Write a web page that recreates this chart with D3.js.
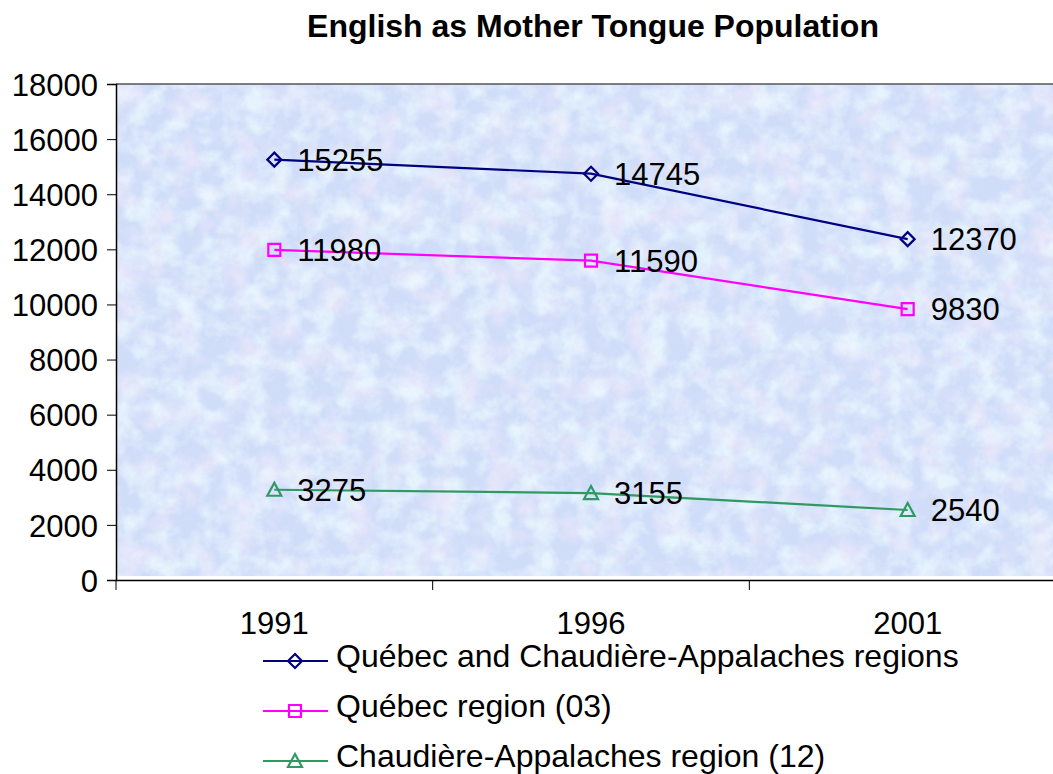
<!DOCTYPE html>
<html>
<head>
<meta charset="utf-8">
<script src="https://cdn.jsdelivr.net/npm/d3@7"></script>
<style>
body{margin:0;background:#fff}
text{font-family:Arial,"Liberation Sans",sans-serif}
</style>
</head>
<body>
<div id="canvas"></div>
<script>
"use strict"

let years=["1991","1996","2001"]
let seriesNames=["Québec and Chaudière-Appalaches regions","Québec region (03)","Chaudière-Appalaches region (12)"]
let both=[15255,14745,12370]
let quebec=[11980,11590,9830]
let chaudiere=[3275,3155,2540]
let yTicks=[0,2000,4000,6000,8000,10000,12000,14000,16000,18000]

let svgWidth=1053
let svgHeight=774
let plotLeft=116, plotRight=1066, plotTop=84, plotBottom=580

let drawing=d3.select("#canvas")
    .append("svg")
    .attr("width",svgWidth)
    .attr("height",svgHeight)

let x=d3.scaleBand().domain(years).range([plotLeft,plotRight])
let y=d3.scaleLinear().domain([0,18000]).range([plotBottom,plotTop])

// textured plot background
let defs=drawing.append("defs")
let f1=defs.append("filter").attr("id","pinkNoise").attr("x",0).attr("y",0).attr("width",1).attr("height",1)
f1.append("feTurbulence").attr("type","fractalNoise").attr("baseFrequency",0.035).attr("numOctaves",4).attr("seed",3)
f1.append("feColorMatrix").attr("type","matrix")
    .attr("values","0 0 0 0 0.96  0 0 0 0 0.85  0 0 0 0 0.97  2.4 0 0 0 -1.05")
let f2=defs.append("filter").attr("id","cyanNoise").attr("x",0).attr("y",0).attr("width",1).attr("height",1)
f2.append("feTurbulence").attr("type","fractalNoise").attr("baseFrequency",0.045).attr("numOctaves",4).attr("seed",11)
f2.append("feColorMatrix").attr("type","matrix")
    .attr("values","0 0 0 0 0.84  0 0 0 0 0.96  0 0 0 0 1  2.4 0 0 0 -0.95")
let f3=defs.append("filter").attr("id","grain").attr("x",0).attr("y",0).attr("width",1).attr("height",1)
f3.append("feTurbulence").attr("type","fractalNoise").attr("baseFrequency",0.18).attr("numOctaves",2).attr("seed",5)
f3.append("feColorMatrix").attr("type","matrix")
    .attr("values","0 0 0 0 0.7  0 0 0 0 0.76  0 0 0 0 0.93  0 0 0 -2 1.05")
defs.append("clipPath").attr("id","plotClip")
    .append("rect").attr("x",plotLeft).attr("y",plotTop).attr("width",svgWidth-plotLeft).attr("height",plotBottom-4-plotTop)

let bg=drawing.append("g").attr("clip-path","url(#plotClip)")
bg.append("rect").attr("x",plotLeft).attr("y",plotTop).attr("width",svgWidth-plotLeft).attr("height",plotBottom-plotTop).attr("fill","#d0ddf9")
bg.append("rect").attr("x",plotLeft).attr("y",plotTop).attr("width",svgWidth-plotLeft).attr("height",plotBottom-plotTop).attr("filter","url(#pinkNoise)").attr("opacity",0.6)
bg.append("rect").attr("x",plotLeft).attr("y",plotTop).attr("width",svgWidth-plotLeft).attr("height",plotBottom-plotTop).attr("filter","url(#cyanNoise)").attr("opacity",0.8)
bg.append("rect").attr("x",plotLeft).attr("y",plotTop).attr("width",svgWidth-plotLeft).attr("height",plotBottom-plotTop).attr("filter","url(#grain)").attr("opacity",0.2)

// top border
drawing.append("line")
    .attr("x1",plotLeft).attr("x2",svgWidth).attr("y1",plotTop).attr("y2",plotTop)
    .attr("stroke","#555").attr("stroke-width",1.5)

// title
drawing.append("text")
    .attr("x",593).attr("y",37)
    .attr("text-anchor","middle")
    .attr("font-size",32).attr("font-weight","bold")
    .text("English as Mother Tongue Population")

// axes
let yAxis=drawing.append("g")
    .attr("transform",`translate(${plotLeft},0)`)
    .call(d3.axisLeft(y).tickValues(yTicks).tickSize(9).tickPadding(9).tickFormat(d3.format("d")))
yAxis.select(".domain").attr("stroke","#000").attr("stroke-width",1.5)
yAxis.selectAll(".tick line").attr("stroke","#000")
yAxis.selectAll("text").attr("font-size",31).attr("fill","#000").attr("dy","0.36em")

let xAxis=drawing.append("g")
    .attr("transform",`translate(0,${plotBottom})`)
    .call(d3.axisBottom(x).tickSize(0).tickPadding(32))
xAxis.select(".domain").attr("stroke","#000").attr("stroke-width",1.5)
xAxis.selectAll("text").attr("font-size",31).attr("fill","#000")
drawing.selectAll(".xtick")
    .data(years.concat(["end"]))
    .enter().append("line")
    .attr("x1",(d,i)=>plotLeft+i*x.step()).attr("x2",(d,i)=>plotLeft+i*x.step())
    .attr("y1",plotBottom).attr("y2",plotBottom+10)
    .attr("stroke","#000")

// series
let series=[
    {name:seriesNames[0],values:both,color:"#000080",marker:"diamond"},
    {name:seriesNames[1],values:quebec,color:"#ff00ff",marker:"square"},
    {name:seriesNames[2],values:chaudiere,color:"#2e9a62",marker:"triangle"}
]

function markerPath(type){
    if(type=="diamond") return "M0,-7L7,0L0,7L-7,0Z"
    if(type=="square") return "M-6,-6L6,-6L6,6L-6,6Z"
    return "M0,-7L7,6L-7,6Z"
}

let cx=d=>x(d)+x.bandwidth()/2
let line=d3.line().x(d=>cx(d.year)).y(d=>y(d.value))

series.forEach(s=>{
    let pts=years.map((yr,i)=>({year:yr,value:s.values[i]}))
    drawing.append("path")
        .attr("d",line(pts))
        .attr("fill","none")
        .attr("stroke",s.color)
        .attr("stroke-width",2.2)
    drawing.selectAll(null).data(pts).enter().append("path")
        .attr("transform",d=>`translate(${cx(d.year)},${y(d.value)})`)
        .attr("d",markerPath(s.marker))
        .attr("fill","none")
        .attr("stroke",s.color)
        .attr("stroke-width",2.2)
    drawing.selectAll(null).data(pts).enter().append("text")
        .attr("x",d=>cx(d.year)+23)
        .attr("y",d=>y(d.value)+11)
        .attr("font-size",31)
        .text(d=>d.value)
})

// legend
let legend=drawing.append("g").attr("transform","translate(263,661)")
series.forEach((s,i)=>{
    let g=legend.append("g").attr("transform",`translate(0,${i*50})`)
    g.append("line").attr("x1",0).attr("x2",65).attr("y1",0).attr("y2",0)
        .attr("stroke",s.color).attr("stroke-width",2.2)
    g.append("path").attr("transform","translate(32,0)")
        .attr("d",markerPath(s.marker))
        .attr("fill","none").attr("stroke",s.color).attr("stroke-width",2.2)
    g.append("text").attr("x",73).attr("y",6)
        .attr("font-size",32)
        .text(s.name)
})
</script>
</body>
</html>
